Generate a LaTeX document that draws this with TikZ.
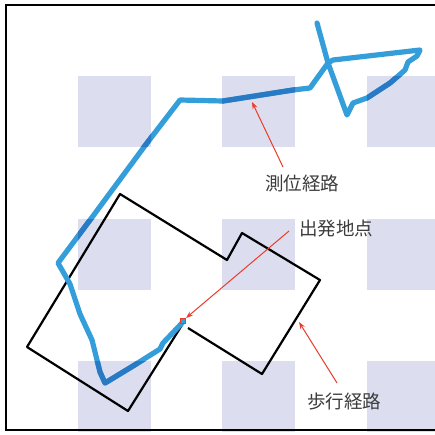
\documentclass[tikz,border=0pt]{standalone}
\usepackage{fontspec}
\newfontfamily\jpfont{Noto Sans CJK JP}
\usetikzlibrary{arrows.meta}
\definecolor{sqfill}{RGB}{220,222,240}
\definecolor{posblue}{RGB}{52,158,218}
\definecolor{posdark}{RGB}{40,122,196}
\definecolor{arrred}{RGB}{235,60,40}
\definecolor{txtgray}{RGB}{60,60,60}
\tikzset{
  sq/.style={fill=sqfill,draw=none},
  walkpath/.style={draw=black,line width=2.2pt,line join=round},
  pospath/.style={draw=posblue,line width=5.2pt,line join=round,line cap=round},
  posover/.style={draw=posdark,line width=5.2pt,line join=round,line cap=round},
  callout/.style={draw=arrred,line width=1pt,-{Stealth[length=7pt,width=5pt]}},
  lbl/.style={font=\jpfont\fontsize{18.5}{20}\selectfont,text=txtgray,inner sep=0pt}
}
\begin{document}
\begin{tikzpicture}[x=1pt,y=-1pt]
\useasboundingbox (0,0) rectangle (435,434);
\fill[white] (0,0) rectangle (435,434);
% squares
\foreach \cx in {78,222,367}{
  \foreach \cy in {76,219,361}{
    \fill[sq] (\cx,\cy) rectangle ++(73,71);
  }
}
% frame
\draw[black,line width=1.6pt] (440,5) -- (6,5) -- (6,430) -- (440,430);
% walking route
\draw[walkpath] (188,328) -- (262,374) -- (320,280) -- (242,233) -- (227,260)
  -- (120,194) -- (27,347) -- (128,411) -- (182,325);
% positioning route
\def\pospts{(183,322) -- (163,343) -- (160,349) -- (133,366) -- (105,383) -- (100,372)
  -- (92,340) -- (80,314) -- (70,284) -- (58,263) -- (93,216) -- (147,143)
  -- (180,100) -- (223,101) -- (293,90) -- (310,88) -- (328,63) -- (333,60)
  -- (420,50) -- (417,56) -- (408,62) -- (405,70) -- (390,83) -- (367,98)
  -- (353,103) -- (347,115) -- (328,63) -- (317,23)}
\draw[pospath] \pospts;
\begin{scope}
  \clip (78,76) rectangle ++(73,71) (222,76) rectangle ++(73,71) (367,76) rectangle ++(73,71)
        (78,219) rectangle ++(73,71) (78,361) rectangle ++(73,71);
  \draw[posover] \pospts;
\end{scope}
% start point marker
\node[draw=arrred,fill=posblue,line width=1pt,minimum size=5pt,inner sep=0pt] (start) at (183,321) {};
% labels
\node[lbl] (lpos) at (302,183) {測位経路};
\node[lbl] (lstart) at (336,229) {出発地点};
\node[lbl] (lwalk) at (344,402) {歩行経路};
\coordinate (posT) at (252,102);
\coordinate (walkT) at (299,322);
\coordinate (posS) at (283,167);
\coordinate (startS) at (289,231);
\coordinate (walkS) at (337,383);
\draw[callout] (posS) -- (posT);
\draw[callout] (startS) -- (start.north east);
\draw[callout] (walkS) -- (walkT);
\end{tikzpicture}
\end{document}
